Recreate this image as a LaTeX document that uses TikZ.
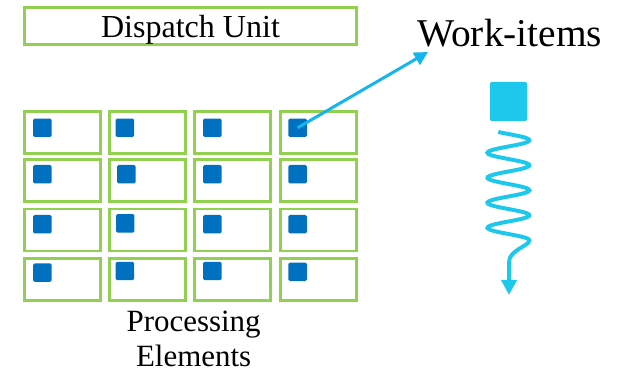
\documentclass[tikz,border=0pt]{standalone}
\usepackage{fontspec}
\setmainfont{Liberation Serif}
\usepackage{xcolor}
\definecolor{pegreen}{RGB}{146,208,80}
\definecolor{coreblue}{RGB}{0,112,192}
\definecolor{itemcyan}{RGB}{28,200,236}
\definecolor{linkcyan}{RGB}{20,180,236}
\usepackage{tikz}
\usetikzlibrary{arrows.meta}

\begin{document}
\begin{tikzpicture}[scale=1,
  pebox/.style={draw=pegreen, line width=2.1pt, minimum width=1.9cm, minimum height=1.05cm, inner sep=0pt},
  core/.style={fill=coreblue, rounded corners=1pt, minimum size=0.46cm, inner sep=0pt}]
  \useasboundingbox (0,0) rectangle (15.425,9.325);

  \node[pebox, minimum width=8.3cm, minimum height=0.925cm, text depth=0pt, font=\fontsize{22.8}{26}\selectfont] (dispatch) at (4.7625,8.675) {Dispatch Unit};

  \node[pebox] (pe11) at (1.5625,6.0125) {};
  \node[pebox] (pe12) at (3.6875,6.0125) {};
  \node[pebox] (pe13) at (5.8125,6.0125) {};
  \node[pebox] (pe14) at (7.9625,6.0125) {};
  \node[core] (c11) at (1.06,6.13) {};
  \node[core] (c12) at (3.12,6.13) {};
  \node[core] (c13) at (5.31,6.13) {};
  \node[core] (c14) at (7.44,6.13) {};

  \node[pebox] (pe21) at (1.5625,4.8125) {};
  \node[pebox] (pe22) at (3.6875,4.8125) {};
  \node[pebox] (pe23) at (5.8125,4.8125) {};
  \node[pebox] (pe24) at (7.9625,4.8125) {};
  \node[core] (c21) at (1.06,4.97) {};
  \node[core] (c22) at (3.16,4.97) {};
  \node[core] (c23) at (5.31,4.97) {};
  \node[core] (c24) at (7.44,4.97) {};

  \node[pebox] (pe31) at (1.5625,3.575) {};
  \node[pebox] (pe32) at (3.6875,3.575) {};
  \node[pebox] (pe33) at (5.8125,3.575) {};
  \node[pebox] (pe34) at (7.9625,3.575) {};
  \node[core] (c31) at (1.06,3.72) {};
  \node[core] (c32) at (3.13,3.74) {};
  \node[core] (c33) at (5.31,3.72) {};
  \node[core] (c34) at (7.44,3.72) {};

  \node[pebox] (pe41) at (1.5625,2.3375) {};
  \node[pebox] (pe42) at (3.6875,2.3375) {};
  \node[pebox] (pe43) at (5.8125,2.3375) {};
  \node[pebox] (pe44) at (7.9625,2.3375) {};
  \node[core] (c41) at (1.06,2.51) {};
  \node[core] (c42) at (3.12,2.55) {};
  \node[core] (c43) at (5.31,2.55) {};
  \node[core] (c44) at (7.44,2.53) {};

  \node[align=center, anchor=north, inner sep=0pt, font=\fontsize{22}{24.9}\selectfont] (pelabel) at (4.84,1.55) {Processing\\Elements};

  % work-item picked up by one element
  \node[anchor=base west, inner sep=0pt, font=\fontsize{28}{31}\selectfont] (wilabel) at (10.425,8.15) {Work-items};
  \coordinate (witip) at (10.7,8.025);
  \draw[linkcyan, line width=2.1pt, -{Triangle[length=0.34cm,width=0.34cm]}] (c14.center) -- (witip);

  \node[fill=itemcyan, rounded corners=1pt, minimum width=0.925cm, minimum height=0.975cm, inner sep=0pt] (item) at (12.7125,6.7875) {};
  \coordinate (itemend) at (12.725,1.95);
  \draw[itemcyan, line width=2.8pt, -{Triangle[length=0.38cm,width=0.38cm]}]
    plot[domain=-0.08:4.25, samples=90, smooth] ({12.71+0.525*sin(360*\x)}, {5.975-0.625*\x})
    .. controls (13.235,3.175) and (12.725,3.075) .. (12.725,2.775)
    -- (itemend);
\end{tikzpicture}
\end{document}
